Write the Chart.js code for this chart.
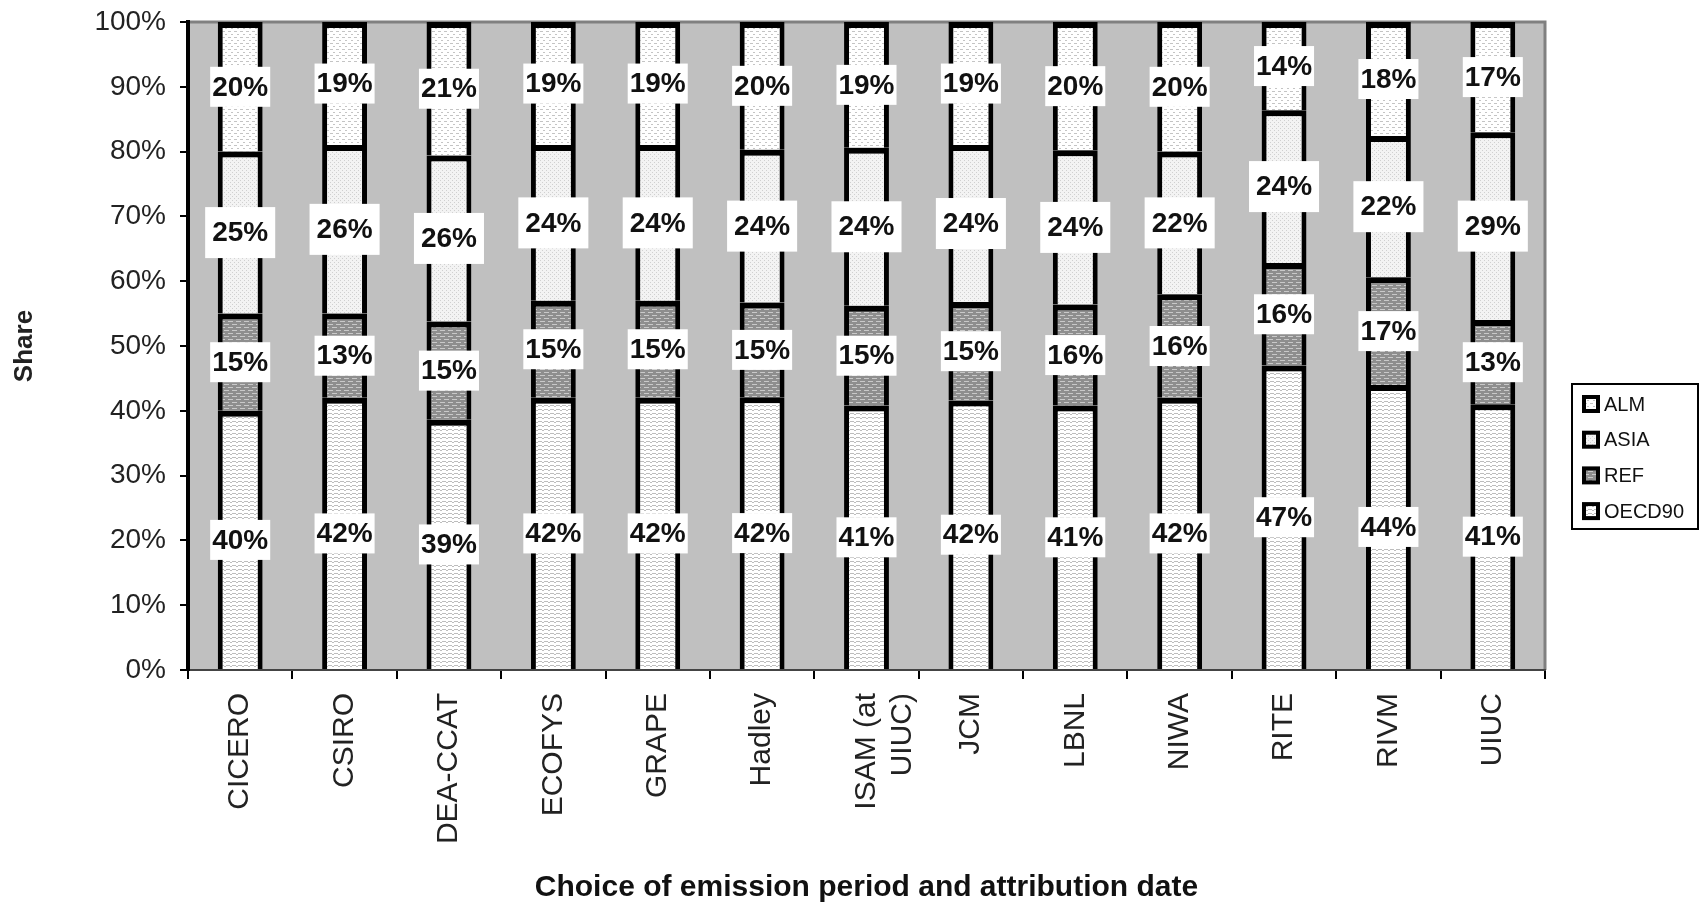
<!DOCTYPE html>
<html>
<head>
<meta charset="utf-8">
<script src="https://cdn.jsdelivr.net/npm/chart.js@4.4.0/dist/chart.umd.min.js"></script>
<style>
  html, body { margin: 0; padding: 0; background: #fff; }
  #wrap { width: 1704px; height: 906px; }
</style>
</head>
<body>
<div id="wrap"><canvas id="chart" width="1704" height="906"></canvas></div>
<script>
// regional shares per model (percent), stacked bottom -> top
const categories = ['CICERO', 'CSIRO', 'DEA-CCAT', 'ECOFYS', 'GRAPE', 'Hadley', ['ISAM (at', 'UIUC)'], 'JCM', 'LBNL', 'NIWA', 'RITE', 'RIVM', 'UIUC'];
const oecd90 = [40, 42, 38.6, 42, 42, 42.1, 40.8, 41.6, 40.8, 42, 47, 44, 41];
const ref    = [15, 13, 15.2, 15, 15, 14.6, 15.4, 15.2, 15.6, 16, 15.8, 16.6, 13];
const asia   = [25, 26, 25.6, 24, 24, 23.6, 24.4, 24.2, 23.8, 22, 23.6, 21.8, 29];
const alm    = [20, 19, 20.6, 19, 19, 19.7, 19.4, 19, 19.8, 20, 13.6, 17.6, 17];
const yTicks = [0, 10, 20, 30, 40, 50, 60, 70, 80, 90, 100];

function makePattern(w, h, bg, fg, rects) {
    const c = document.createElement('canvas');
    c.width = w; c.height = h;
    const g = c.getContext('2d');
    g.fillStyle = bg;
    g.fillRect(0, 0, w, h);
    g.fillStyle = fg;
    rects.forEach(r => g.fillRect(r[0], r[1], r[2], r[3]));
    return g.createPattern(c, 'repeat');
}

const patOecd = makePattern(6, 4, '#ffffff', '#bdbdbd', [[0, 1, 2, 1], [2, 2, 2, 1], [4, 1, 2, 1]]);
const patRef  = makePattern(8, 6, '#8e8e8e', '#c9c9c9', [[0, 0, 5, 1], [4, 3, 4, 1], [0, 3, 1, 1]]);
const patAsia = makePattern(4, 4, '#f3f3f3', '#d0d0d0', [[0, 0, 1, 1], [2, 2, 1, 1]]);
const patAlm  = makePattern(6, 6, '#ffffff', '#c4c4c4', [[0, 1, 3, 1], [3, 4, 2, 1]]);

const plotBg = {
    id: 'plotBg',
    beforeDraw(chart) {
        const { ctx, chartArea: a } = chart;
        ctx.save();
        ctx.fillStyle = '#c0c0c0';
        ctx.fillRect(a.left, a.top, a.right - a.left, a.bottom - a.top);
        ctx.strokeStyle = '#808080';
        ctx.lineWidth = 3;
        ctx.beginPath();
        ctx.moveTo(a.left, a.top);
        ctx.lineTo(a.right, a.top);
        ctx.lineTo(a.right, a.bottom);
        ctx.stroke();
        ctx.restore();
    }
};

const valueLabels = {
    id: 'valueLabels',
    afterDatasetsDraw(chart) {
        const ctx = chart.ctx;
        ctx.save();
        ctx.font = 'bold 28px "Liberation Sans", Arial, sans-serif';
        ctx.textAlign = 'center';
        ctx.textBaseline = 'middle';
        chart.data.datasets.forEach((ds, i) => {
            const meta = chart.getDatasetMeta(i);
            const tall = ds.label === 'ASIA';
            meta.data.forEach((bar, j) => {
                const txt = Math.round(ds.data[j]) + '%';
                const tw = ctx.measureText(txt).width;
                const bw = tall ? tw + 14 : tw + 4;
                const bh = tall ? 51 : 40;
                const cx = bar.x;
                const cy = (bar.y + bar.base) / 2;
                ctx.fillStyle = '#ffffff';
                ctx.fillRect(cx - bw / 2, cy - bh / 2, bw, bh);
                ctx.fillStyle = '#111111';
                ctx.fillText(txt, cx, cy + 1);
            });
        });
        ctx.restore();
    }
};

const boxLegend = {
    id: 'boxLegend',
    afterDraw(chart) {
        const ctx = chart.ctx;
        const x = 1572, y = 384, w = 126, h = 145;
        ctx.save();
        ctx.fillStyle = '#ffffff';
        ctx.fillRect(x, y, w, h);
        ctx.strokeStyle = '#000000';
        ctx.lineWidth = 2;
        ctx.strokeRect(x, y, w, h);
        ctx.font = '20px "Liberation Sans", Arial, sans-serif';
        ctx.textBaseline = 'middle';
        ctx.textAlign = 'left';
        const items = chart.data.datasets.slice().reverse();
        items.forEach((ds, k) => {
            const cy = y + 20 + k * 35.7;
            ctx.fillStyle = '#000000';
            ctx.fillRect(x + 10, cy - 9, 18, 18);
            ctx.fillStyle = ds.backgroundColor;
            ctx.fillRect(x + 14, cy - 5, 10, 10);
            ctx.fillStyle = '#111111';
            ctx.fillText(ds.label, x + 32, cy + 1);
        });
        ctx.restore();
    }
};

const barStyle = {
    borderColor: '#000000',
    borderWidth: { top: 6, left: 5, right: 5, bottom: 0 },
    borderSkipped: false,
    barPercentage: 0.43,
    categoryPercentage: 1.0
};

new Chart(document.getElementById('chart'), {
    type: 'bar',
    data: {
        labels: categories,
        datasets: [
            Object.assign({ label: 'OECD90', data: oecd90, backgroundColor: patOecd }, barStyle),
            Object.assign({ label: 'REF', data: ref, backgroundColor: patRef }, barStyle),
            Object.assign({ label: 'ASIA', data: asia, backgroundColor: patAsia }, barStyle),
            Object.assign({ label: 'ALM', data: alm, backgroundColor: patAlm }, barStyle)
        ]
    },
    options: {
        responsive: false,
        animation: false,
        devicePixelRatio: 1,
        layout: { padding: { left: 0, right: 159, top: 22, bottom: 0 } },
        plugins: {
            legend: { display: false },
            tooltip: { enabled: false }
        },
        scales: {
            x: {
                stacked: true,
                grid: { offset: true, drawOnChartArea: false, drawTicks: true, tickLength: 9, color: '#000000', lineWidth: 2 },
                border: { display: true, color: '#444444', width: 2 },
                ticks: {
                    minRotation: 90, maxRotation: 90, autoSkip: false, padding: 14,
                    color: '#222222',
                    font: { family: '"Liberation Sans", Arial, sans-serif', size: 30 }
                },
                title: {
                    display: true,
                    text: 'Choice of emission period and attribution date',
                    color: '#111111',
                    padding: { top: 0, bottom: 0 },
                    font: { family: '"Liberation Sans", Arial, sans-serif', size: 30, weight: 'bold' }
                },
                afterFit(scale) {
                    scale.height = 236;
                    scale.paddingLeft = 0;
                    scale.paddingRight = 0;
                }
            },
            y: {
                stacked: true,
                min: 0,
                max: 100,
                afterBuildTicks(scale) { scale.ticks = yTicks.map(v => ({ value: v })); },
                grid: { drawOnChartArea: false, drawTicks: true, tickLength: 8, color: '#000000', lineWidth: 2 },
                border: { display: true, color: '#000000', width: 4 },
                ticks: {
                    padding: 14,
                    color: '#222222',
                    font: { family: '"Liberation Sans", Arial, sans-serif', size: 28 },
                    callback: v => v + '%'
                },
                title: {
                    display: true,
                    text: 'Share',
                    color: '#222222',
                    padding: { top: 9, bottom: 0 },
                    font: { family: '"Liberation Sans", Arial, sans-serif', size: 26, weight: 'bold' }
                },
                afterFit(scale) {
                    scale.width = 188;
                    scale.paddingTop = 0;
                    scale.paddingBottom = 0;
                }
            }
        }
    },
    plugins: [plotBg, valueLabels, boxLegend]
});
</script>
</body>
</html>
